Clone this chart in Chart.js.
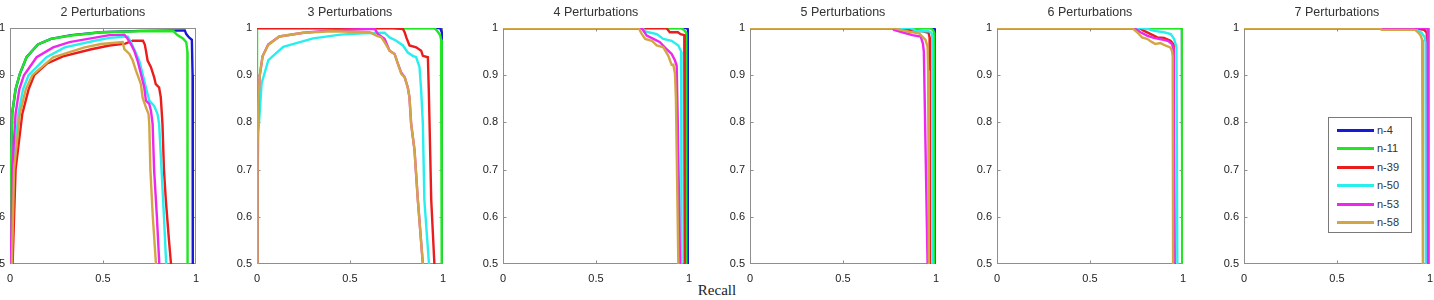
<!DOCTYPE html>
<html>
<head>
<meta charset="utf-8">
<script src="https://cdn.jsdelivr.net/npm/chart.js@4.4.1/dist/chart.umd.min.js"></script>
<style>
  html, body { margin: 0; padding: 0; background: #ffffff; }
  body { width: 1434px; height: 300px; position: relative; overflow: hidden; }
  canvas { position: absolute; top: 0; }
  #xlabel { position: absolute; left: 667px; width: 100px; top: 282px; text-align: center;
            font-family: "Liberation Serif", "DejaVu Serif", serif; font-size: 15px; color: #222; }
  #legend { position: absolute; left: 1328px; top: 117px; width: 84px; height: 116px;
            border: 1px solid #7a7a7a; background: #fff; box-sizing: border-box; }
  .lg-row { position: absolute; left: 0; height: 18px; width: 100%; }
  .lg-line { position: absolute; left: 8px; width: 37px; height: 3px; top: 8px; }
  .lg-text { position: absolute; left: 48px; top: 2px; font-family: "Liberation Sans", Arial, sans-serif;
             font-size: 11px; color: #333; line-height: 14px; }
</style>
</head>
<body>
<div id="xlabel">Recall</div>
<div id="legend"></div>
<script>
// ---------- categories / labels ----------
const seriesNames = ['n-4', 'n-11', 'n-39', 'n-50', 'n-53', 'n-58'];
const panelTitles = ['2 Perturbations', '3 Perturbations', '4 Perturbations',
                     '5 Perturbations', '6 Perturbations', '7 Perturbations'];
const xTickValues = [0, 0.5, 1];
const yTickValues = [0.5, 0.6, 0.7, 0.8, 0.9, 1];

// ---------- data: [recall, precision] ----------
// 2 Perturbations
const pert2_n4  = [[0,0.5],[0.004,0.7],[0.012,0.82],[0.03,0.87],[0.053,0.903],[0.089,0.938],[0.15,0.965],[0.22,0.977],[0.33,0.985],[0.49,0.991],[0.7,0.994],[0.94,0.995],[0.948,0.987],[0.963,0.98],[0.978,0.975],[0.982,0.9],[0.983,0.5]];
const pert2_n11 = [[0,0.5],[0.004,0.7],[0.012,0.82],[0.03,0.87],[0.053,0.903],[0.089,0.938],[0.15,0.965],[0.22,0.977],[0.33,0.984],[0.49,0.991],[0.7,0.993],[0.88,0.993],[0.9,0.985],[0.93,0.978],[0.948,0.97],[0.954,0.95],[0.955,0.5]];
const pert2_n39 = [[0.014,0.5],[0.03,0.7],[0.066,0.818],[0.1,0.87],[0.13,0.9],[0.2,0.925],[0.285,0.94],[0.437,0.955],[0.535,0.963],[0.62,0.967],[0.66,0.973],[0.715,0.973],[0.725,0.965],[0.731,0.952],[0.74,0.931],[0.758,0.917],[0.775,0.896],[0.784,0.881],[0.802,0.874],[0.811,0.853],[0.82,0.797],[0.828,0.7],[0.838,0.636],[0.855,0.55],[0.866,0.5]];
const pert2_n50 = [[0.008,0.5],[0.018,0.7],[0.045,0.818],[0.07,0.87],[0.1,0.9],[0.196,0.938],[0.294,0.959],[0.455,0.973],[0.535,0.979],[0.633,0.982],[0.65,0.97],[0.668,0.955],[0.695,0.931],[0.713,0.903],[0.731,0.874],[0.749,0.846],[0.775,0.835],[0.793,0.818],[0.802,0.797],[0.815,0.7],[0.828,0.6],[0.84,0.5]];
const pert2_n53 = [[0.005,0.5],[0.012,0.7],[0.03,0.818],[0.05,0.87],[0.075,0.9],[0.143,0.938],[0.232,0.959],[0.32,0.97],[0.419,0.977],[0.535,0.985],[0.615,0.986],[0.633,0.977],[0.65,0.966],[0.668,0.952],[0.686,0.931],[0.704,0.903],[0.722,0.874],[0.731,0.846],[0.749,0.839],[0.758,0.825],[0.767,0.797],[0.775,0.7],[0.79,0.6],[0.803,0.5]];
const pert2_n58 = [[0.01,0.5],[0.022,0.7],[0.053,0.818],[0.085,0.87],[0.12,0.9],[0.232,0.938],[0.401,0.959],[0.49,0.966],[0.606,0.97],[0.615,0.955],[0.642,0.945],[0.66,0.931],[0.677,0.91],[0.704,0.881],[0.713,0.853],[0.731,0.832],[0.745,0.818],[0.749,0.797],[0.755,0.7],[0.768,0.6],[0.785,0.5]];
// 3 Perturbations
const pert3_n4  = [[0,1],[0.985,1],[0.995,0.99],[0.998,0.5]];
const pert3_n11 = [[0,0.5],[0,1],[0.954,1],[0.97,0.993],[0.985,0.985],[0.99,0.975],[0.993,0.95],[0.994,0.5]];
const pert3_n39 = [[0,1],[0.731,1],[0.785,0.998],[0.795,0.99],[0.803,0.98],[0.82,0.963],[0.856,0.959],[0.883,0.952],[0.892,0.941],[0.919,0.938],[0.924,0.867],[0.928,0.797],[0.937,0.636],[0.954,0.5]];
const pert3_n50 = [[0,0.5],[0.004,0.7],[0.007,0.777],[0.025,0.883],[0.061,0.932],[0.141,0.96],[0.302,0.978],[0.45,0.986],[0.57,0.989],[0.686,0.99],[0.713,0.98],[0.749,0.973],[0.785,0.963],[0.811,0.948],[0.838,0.941],[0.856,0.938],[0.874,0.917],[0.883,0.867],[0.892,0.797],[0.9,0.636],[0.925,0.5]];
const pert3_n53 = [[0,0.5],[0.003,0.75],[0.008,0.85],[0.015,0.9],[0.03,0.94],[0.06,0.965],[0.12,0.982],[0.25,0.99],[0.4,0.995],[0.606,0.998],[0.633,0.998],[0.651,0.987],[0.686,0.977],[0.713,0.952],[0.74,0.945],[0.758,0.924],[0.776,0.905],[0.794,0.896],[0.811,0.874],[0.82,0.853],[0.829,0.797],[0.847,0.742],[0.865,0.636],[0.892,0.5]];
const pert3_n58 = [[0,0.5],[0.003,0.75],[0.008,0.85],[0.015,0.9],[0.03,0.94],[0.06,0.964],[0.12,0.982],[0.25,0.99],[0.4,0.993],[0.606,0.991],[0.642,0.984],[0.669,0.98],[0.686,0.97],[0.713,0.952],[0.74,0.945],[0.758,0.924],[0.776,0.903],[0.794,0.896],[0.811,0.874],[0.82,0.853],[0.829,0.797],[0.847,0.742],[0.865,0.636],[0.892,0.5]];
// 4 Perturbations
const pert4_n4  = [[0,1],[0.99,1],[0.995,0.995],[0.996,0.5]];
const pert4_n11 = [[0,1],[0.96,1],[0.975,0.995],[0.985,0.99],[0.986,0.5]];
const pert4_n39 = [[0,1],[0.879,1],[0.897,0.991],[0.941,0.991],[0.955,0.987],[0.975,0.985],[0.977,0.5]];
const pert4_n50 = [[0,1],[0.75,1],[0.765,0.993],[0.783,0.991],[0.827,0.987],[0.862,0.977],[0.907,0.973],[0.943,0.963],[0.958,0.95],[0.96,0.5]];
const pert4_n53 = [[0,1],[0.746,1],[0.773,0.984],[0.809,0.977],[0.844,0.97],[0.88,0.955],[0.907,0.945],[0.925,0.931],[0.934,0.92],[0.94,0.8],[0.952,0.5]];
const pert4_n58 = [[0,1],[0.729,1],[0.747,0.987],[0.765,0.977],[0.8,0.973],[0.827,0.963],[0.862,0.959],[0.889,0.941],[0.907,0.922],[0.916,0.922],[0.925,0.903],[0.93,0.85],[0.943,0.5]];
// 5 Perturbations
const pert5_n4  = [[0,1],[0.99,1],[0.997,0.995],[0.998,0.5]];
const pert5_n11 = [[0,1],[0.97,1],[0.985,0.995],[0.99,0.99],[0.991,0.5]];
const pert5_n39 = [[0,1],[0.8,1],[0.85,0.996],[0.93,0.993],[0.96,0.99],[0.966,0.98],[0.967,0.5]];
const pert5_n50 = [[0,1],[0.86,1],[0.9,0.993],[0.96,0.993],[0.975,0.99],[0.98,0.985],[0.981,0.5]];
const pert5_n53 = [[0,1],[0.766,1],[0.775,0.996],[0.82,0.991],[0.873,0.985],[0.918,0.982],[0.93,0.967],[0.935,0.95],[0.955,0.5]];
const pert5_n58 = [[0,1],[0.775,1],[0.8,0.997],[0.855,0.992],[0.909,0.989],[0.944,0.975],[0.955,0.96],[0.958,0.91],[0.962,0.5]];
// 6 Perturbations
const pert6_n4  = [[0,1],[0.995,1],[0.997,0.5]];
const pert6_n11 = [[0,1],[0.995,1],[0.996,0.5]];
const pert6_n39 = [[0,1],[0.765,1],[0.791,0.994],[0.827,0.987],[0.862,0.98],[0.898,0.979],[0.933,0.973],[0.95,0.965],[0.955,0.5]];
const pert6_n50 = [[0,1],[0.774,1],[0.81,0.998],[0.845,0.994],[0.898,0.991],[0.934,0.987],[0.952,0.977],[0.965,0.96],[0.97,0.5]];
const pert6_n53 = [[0,1],[0.737,1],[0.772,0.991],[0.807,0.984],[0.843,0.979],[0.869,0.977],[0.896,0.975],[0.923,0.972],[0.941,0.966],[0.95,0.955],[0.952,0.5]];
const pert6_n58 = [[0,1],[0.727,1],[0.754,0.991],[0.78,0.98],[0.807,0.977],[0.834,0.97],[0.852,0.966],[0.879,0.968],[0.905,0.963],[0.932,0.959],[0.941,0.952],[0.945,0.94],[0.947,0.5]];
// 7 Perturbations
const pert7_n4  = [[0,1],[0.997,1],[0.998,0.5]];
const pert7_n11 = [[0,1],[0.994,1],[0.995,0.5]];
const pert7_n39 = [[0,1],[0.9,1],[0.97,0.996],[0.983,0.99],[0.984,0.5]];
const pert7_n50 = [[0,1],[0.92,1],[0.936,0.994],[0.955,0.99],[0.972,0.98],[0.977,0.97],[0.978,0.5]];
const pert7_n53 = [[0,1],[0.97,1],[0.988,0.998],[0.99,0.5]];
const pert7_n58 = [[0,1],[0.733,1],[0.74,0.996],[0.92,0.996],[0.936,0.991],[0.95,0.984],[0.958,0.975],[0.962,0.5]];

const panelSeries = [
  [pert2_n4, pert2_n11, pert2_n39, pert2_n50, pert2_n53, pert2_n58],
  [pert3_n4, pert3_n11, pert3_n39, pert3_n50, pert3_n53, pert3_n58],
  [pert4_n4, pert4_n11, pert4_n39, pert4_n50, pert4_n53, pert4_n58],
  [pert5_n4, pert5_n11, pert5_n39, pert5_n50, pert5_n53, pert5_n58],
  [pert6_n4, pert6_n11, pert6_n39, pert6_n50, pert6_n53, pert6_n58],
  [pert7_n4, pert7_n11, pert7_n39, pert7_n50, pert7_n53, pert7_n58]
];

// ---------- styles / layout ----------
const seriesColors = ['#1818d8', '#22e622', '#ea1c1c', '#28eeee', '#ee26ee', '#d2a645'];
const plotLefts = [10, 257, 503, 750, 997, 1244];
const PLOT_W = 187, Y_AXIS_W = 34, RIGHT_PAD = 10, X_AXIS_H = 36;
const FONT = '"Liberation Sans", Arial, sans-serif';

const boxPlugin = {
  id: 'matlabBox',
  beforeDatasetsDraw(chart) {
    const { ctx, chartArea: a, scales } = chart;
    ctx.save();
    ctx.strokeStyle = '#8e8e8e';
    ctx.lineWidth = 1;
    const L = Math.round(a.left) + 0.5, R = Math.round(a.right) - 0.5;
    const T = Math.round(a.top) + 0.5, B = Math.round(a.bottom) - 0.5;
    ctx.strokeRect(L, T, R - L, B - T);
    ctx.beginPath();
    xTickValues.forEach(v => {
      if (v <= scales.x.min || v >= scales.x.max) return;
      const px = Math.round(scales.x.getPixelForValue(v)) + 0.5;
      ctx.moveTo(px, B); ctx.lineTo(px, B - 3);
      ctx.moveTo(px, T); ctx.lineTo(px, T + 3);
    });
    yTickValues.forEach(v => {
      if (v <= scales.y.min || v >= scales.y.max) return;
      const py = Math.round(scales.y.getPixelForValue(v)) + 0.5;
      ctx.moveTo(L, py); ctx.lineTo(L + 3, py);
      ctx.moveTo(R, py); ctx.lineTo(R - 3, py);
    });
    ctx.stroke();
    ctx.restore();
  }
};

panelSeries.forEach((series, p) => {
  const canvas = document.createElement('canvas');
  canvas.width = Y_AXIS_W + PLOT_W + RIGHT_PAD;
  canvas.height = 300;
  canvas.style.left = (plotLefts[p] - Y_AXIS_W) + 'px';
  document.body.appendChild(canvas);
  new Chart(canvas, {
    type: 'line',
    data: {
      datasets: series.map((pts, i) => ({
        label: seriesNames[i],
        data: pts.map(([x, y]) => ({ x, y })),
        borderColor: seriesColors[i],
        borderWidth: 2.4,
        pointRadius: 0,
        tension: 0,
        fill: false,
        order: series.length - i
      }))
    },
    options: {
      responsive: false,
      animation: false,
      events: [],
      parsing: false,
      layout: { padding: { left: 0, right: RIGHT_PAD, top: 0, bottom: 0 } },
      plugins: {
        legend: { display: false },
        tooltip: { enabled: false },
        title: {
          display: true, text: panelTitles[p], fullSize: false,
          color: '#333', font: { family: FONT, size: 12.5, weight: 'normal' },
          padding: { top: 5, bottom: 8 }
        }
      },
      scales: {
        x: {
          type: 'linear', min: 0, max: 1,
          afterBuildTicks: s => { s.ticks = xTickValues.map(v => ({ value: v })); },
          afterFit: s => { s.height = X_AXIS_H; },
          grid: { display: false, drawTicks: false },
          border: { display: false },
          ticks: { autoSkip: false, maxRotation: 0, padding: 8, color: '#222',
                   font: { family: FONT, size: 11 }, callback: v => String(v) }
        },
        y: {
          type: 'linear', min: 0.5, max: 1,
          afterBuildTicks: s => { s.ticks = yTickValues.map(v => ({ value: v })); },
          afterFit: s => { s.width = Y_AXIS_W; },
          grid: { display: false, drawTicks: false },
          border: { display: false },
          ticks: { autoSkip: false, padding: 5, color: '#222',
                   font: { family: FONT, size: 11 }, callback: v => String(v) }
        }
      }
    },
    plugins: [boxPlugin]
  });
});

// legend
const legend = document.getElementById('legend');
seriesNames.forEach((name, i) => {
  const row = document.createElement('div');
  row.className = 'lg-row';
  row.style.top = (3 + i * 18.4) + 'px';
  row.innerHTML = '<div class="lg-line" style="background:' + seriesColors[i] + '"></div>' +
                  '<div class="lg-text">' + name + '</div>';
  legend.appendChild(row);
});
</script>
</body>
</html>
